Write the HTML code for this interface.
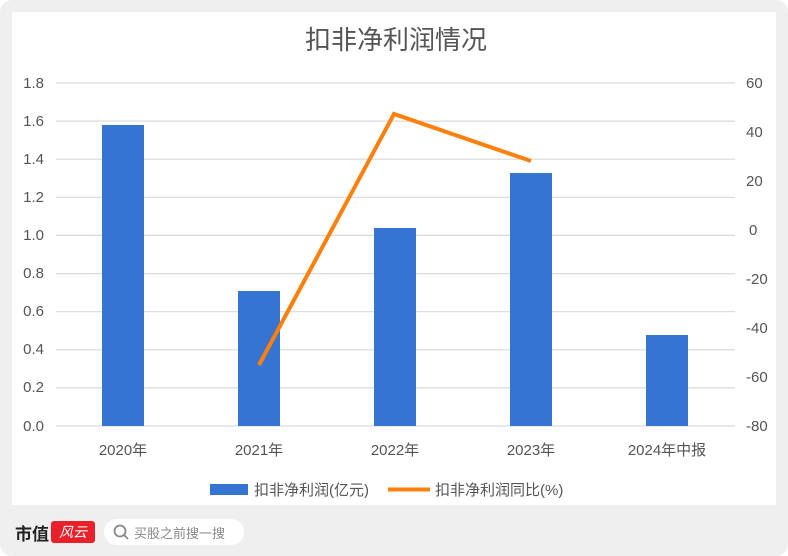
<!DOCTYPE html>
<html><head><meta charset="utf-8"><style>
html,body{margin:0;padding:0;background:#fff}
.wrap{width:788px;height:556px;background:#efefef;border-radius:12px;position:relative;overflow:hidden;font-family:"Liberation Sans","Noto Sans CJK SC",sans-serif}
.card{position:absolute;left:12px;top:12px;width:764px;height:493px;background:#fff}
svg{position:absolute;left:0;top:0}
.foot{position:absolute;left:15px;top:519px;height:26px;display:flex;align-items:center}
.logo{font-weight:bold;font-size:17px;color:#222;letter-spacing:0}
.red{display:inline-block;width:44px;height:22px;background:#e8202a;border-radius:3px;margin-left:2px;color:#fff;font-size:14px;line-height:22px;text-align:center;font-style:italic}
.search{margin-left:9px;width:140px;height:26px;border-radius:13px;background:#fff;display:flex;align-items:center;font-size:13px;color:#888}
</style></head><body>
<div class="wrap">
<div class="card"></div>
<svg width="788" height="556" viewBox="0 0 788 556">
<text x="396" y="49" text-anchor="middle" font-size="26" fill="#555" font-family="Liberation Sans,Noto Sans CJK SC,sans-serif">扣非净利润情况</text>
<g stroke="#d9d9d9" stroke-width="1.2">
<line x1="56" x2="735" y1="83" y2="83"/>
<line x1="56" x2="735" y1="121.1" y2="121.1"/>
<line x1="56" x2="735" y1="159.2" y2="159.2"/>
<line x1="56" x2="735" y1="197.3" y2="197.3"/>
<line x1="56" x2="735" y1="235.4" y2="235.4"/>
<line x1="56" x2="735" y1="273.6" y2="273.6"/>
<line x1="56" x2="735" y1="311.7" y2="311.7"/>
<line x1="56" x2="735" y1="349.8" y2="349.8"/>
<line x1="56" x2="735" y1="387.9" y2="387.9"/>
<line x1="56" x2="735" y1="426" y2="426"/>
</g>
<g font-size="15" fill="#555" text-anchor="end" font-family="Liberation Sans,sans-serif">
<text x="44" y="88">1.8</text><text x="44" y="126">1.6</text><text x="44" y="164">1.4</text><text x="44" y="202">1.2</text><text x="44" y="240">1.0</text><text x="44" y="278">0.8</text><text x="44" y="316">0.6</text><text x="44" y="354">0.4</text><text x="44" y="392">0.2</text><text x="44" y="431">0.0</text>
</g>
<g font-size="15" fill="#555" text-anchor="start" font-family="Liberation Sans,sans-serif">
<text x="746" y="88">60</text><text x="746" y="137">40</text><text x="746" y="186">20</text><text x="749" y="235">0</text><text x="746" y="284">-20</text><text x="746" y="333">-40</text><text x="746" y="382">-60</text><text x="746" y="431">-80</text>
</g>
<g fill="#3674d2">
<rect x="102" y="125" width="42" height="301"/>
<rect x="238" y="291" width="42" height="135"/>
<rect x="374" y="228" width="42" height="198"/>
<rect x="510" y="173" width="42" height="253"/>
<rect x="646" y="335" width="42" height="91"/>
</g>
<polyline points="259,365 394,114 531,161" fill="none" stroke="#fd7f0c" stroke-width="4" stroke-linejoin="miter"/>
<g font-size="15" fill="#555" text-anchor="middle" font-family="Liberation Sans,Noto Sans CJK SC,sans-serif">
<text x="123" y="455">2020年</text><text x="259" y="455">2021年</text><text x="395" y="455">2022年</text><text x="531" y="455">2023年</text><text x="667" y="455">2024年中报</text>
</g>
<rect x="210" y="484" width="38" height="11" fill="#3674d2"/>
<text x="254" y="495" font-size="15" fill="#555" font-family="Liberation Sans,Noto Sans CJK SC,sans-serif">扣非净利润(亿元)</text>
<line x1="388" x2="430" y1="489.5" y2="489.5" stroke="#fd7f0c" stroke-width="4"/>
<text x="435" y="495" font-size="15" fill="#555" font-family="Liberation Sans,Noto Sans CJK SC,sans-serif">扣非净利润同比(%)</text>
</svg>
<div class="foot"><span class="logo">市值</span><span class="red">风云</span>
<div class="search"><svg width="30" height="26" style="position:static"><circle cx="16" cy="12" r="5.5" fill="none" stroke="#888" stroke-width="1.8"/><line x1="20" y1="16" x2="24" y2="20" stroke="#888" stroke-width="1.8"/></svg>买股之前搜一搜</div></div>
</div>
</body></html>
